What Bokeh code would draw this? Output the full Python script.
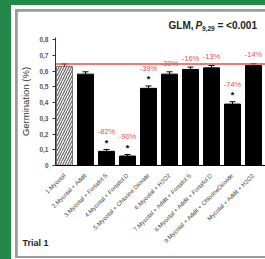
from math import pi
import re
from bokeh.plotting import figure
from bokeh.models import (ColumnDataSource, Range1d, FixedTicker, Label,
                          LabelSet, Whisker, TeeHead)
from bokeh.embed import file_html
from bokeh.resources import INLINE
from bokeh.core.properties import value

# ---------------- data ----------------
treatments = [
    "1.Mycotal",
    "2.Mycotal + Addit",
    "3.Mycotal + Fortafol S",
    "4.Mycotal + Fortafol D",
    "5.Mycotal + Chlorine Dioxide",
    "6.Mycotal + H2O2",
    "7.Mycotal + Addit + Fortafol S",
    "8.Mycotal + Addit + Fortafol D",
    "9.Mycotal + Addit + ChlorineDioxide",
    "Mycotal + Addit + H2O2",
]
germination = [0.63, 0.58, 0.09, 0.06, 0.49, 0.58, 0.61, 0.62, 0.39, 0.635]
errors = [0.015, 0.015, 0.012, 0.010, 0.015, 0.015, 0.015, 0.015, 0.015, 0.012]
change_labels = ["", "", "-82%", "-90%", "-39%", "-30%", "-16%", "-13%", "-74%", "-14%"]
significant = [False, False, True, True, True, False, False, False, True, False]
control_level = 0.645
y_ticks = [0, 0.1, 0.2, 0.3, 0.4, 0.5, 0.6, 0.7, 0.8]
y_tick_labels = ["0", "0,1", "0,2", "0,3", "0,4", "0,5", "0,6", "0,7", "0,8"]
title_parts = ["GLM,", "P", "9,29", "= <0.001"]
panel_label = "Trial 1"

FONT = "Liberation Sans"
RED = "#e2534d"

# axis extents (the visible axes), the canvas shows a bit more around them
X_LO, X_HI = 0.571, 10.571
Y_LO, Y_HI = 0.0, 0.815

xs = list(range(1, len(treatments) + 1))
tops = [g + e for g, e in zip(germination, errors)]
star_y = [t + 0.042 for t in tops]
lab_y = [(s + 0.07) if sig else (t + 0.055) for s, t, sig in zip(star_y, tops, significant)]

src = ColumnDataSource(dict(x=xs, top=germination, upper=tops, lab=change_labels, laby=lab_y))
ctrl = ColumnDataSource(dict(x=xs[:1], top=germination[:1]))
treat = ColumnDataSource(dict(x=xs[1:], top=germination[1:]))
stars = ColumnDataSource(dict(
    x=[x for x, s in zip(xs, significant) if s],
    y=[y for y, s in zip(star_y, significant) if s],
    t=["*" for s in significant if s]))

p = figure(width=248, height=245,
           x_range=Range1d(-1.238, 10.571), y_range=Range1d(-0.578, 0.978),
           output_backend="svg", toolbar_location=None,
           min_border_left=0, min_border_right=0, min_border_top=0, min_border_bottom=0,
           margin=(11, 0, 0, 17),
           styles={"outline": "2px solid #9c9c9c", "box-shadow": "0 0 0 6px #ffffff"})
p.background_fill_color = "white"
p.border_fill_color = "white"
p.outline_line_color = None
p.xgrid.visible = False
p.ygrid.visible = False

# bars
p.vbar(x="x", top="top", bottom=0, width=0.76, source=treat,
       fill_color="black", line_color="black")
p.vbar(x="x", top="top", bottom=0, width=0.76, source=ctrl,
       fill_color="white", line_color="#555555", line_width=0.8,
       hatch_pattern="right_diagonal_line", hatch_color="#666666",
       hatch_scale=5, hatch_weight=1.2)

# error bars
p.add_layout(Whisker(source=src, base="x", lower="top", upper="upper",
                     line_color="black", line_width=1,
                     upper_head=TeeHead(size=6, line_color="black", line_width=1),
                     lower_head=None))

# control reference line across the axis width
p.line(x=[X_LO, X_HI], y=[control_level, control_level], line_color=RED, line_width=1.5)

# change labels and significance stars
p.add_layout(LabelSet(x="x", y="laby", text="lab", source=src,
                      text_font=value(FONT), text_font_size=value("7.5px"),
                      text_color=RED, text_align="center", text_baseline="middle"))
p.add_layout(LabelSet(x="x", y="y", text="t", source=stars,
                      text_font=value(FONT), text_font_size=value("9px"),
                      text_font_style="bold",
                      text_color="black", text_align="center", text_baseline="middle"))

# axes, fixed inside the canvas
p.xaxis.fixed_location = 0
p.xaxis.bounds = (X_LO, X_HI)
p.xaxis.ticker = FixedTicker(ticks=xs)
p.xaxis.major_label_overrides = {x: t for x, t in zip(xs, treatments)}
p.xaxis.major_label_orientation = pi / 4
p.xaxis.major_label_text_font = FONT
p.xaxis.major_label_text_font_size = "6px"
p.xaxis.major_label_text_color = "#444444"
p.xaxis.major_label_standoff = 3
p.xaxis.major_tick_line_color = None
p.xaxis.minor_tick_line_color = None
p.xaxis.axis_line_color = "black"
p.xaxis.axis_line_width = 1.2

p.yaxis.fixed_location = X_LO
p.yaxis.bounds = (Y_LO, Y_HI)
p.yaxis.ticker = FixedTicker(ticks=y_ticks)
p.yaxis.major_label_overrides = {t: l for t, l in zip(y_ticks, y_tick_labels)}
p.yaxis.major_label_text_font = FONT
p.yaxis.major_label_text_font_size = "6.5px"
p.yaxis.major_label_text_font_style = "bold"
p.yaxis.major_label_text_color = "#555555"
p.yaxis.major_label_standoff = 4
p.yaxis.major_tick_out = 3
p.yaxis.major_tick_in = 0
p.yaxis.minor_tick_line_color = None
p.yaxis.axis_line_color = "#333333"
p.yaxis.major_tick_line_color = "#333333"
p.yaxis.axis_label = "Germination (%)"
p.yaxis.axis_label_text_font = FONT
p.yaxis.axis_label_text_font_size = "9.5px"
p.yaxis.axis_label_text_font_style = "normal"
p.yaxis.axis_label_text_color = "#333333"
p.yaxis.axis_label_standoff = 5

# title pieces (subscript and italic P)
tx, ty = 5.952, 0.889
offsets = [0, 27, 33.5, 49]
styles_ = ["bold", "bold italic", "bold", "bold"]
sizes = ["10px", "10px", "6.5px", "10px"]
ys = [ty, ty, ty - 0.02, ty]
for txt, off, st, sz, yy in zip(title_parts, offsets, styles_, sizes, ys):
    p.add_layout(Label(x=tx, y=yy, x_offset=off, text=txt, text_font=FONT,
                       text_font_size=sz, text_font_style=st, text_color="#222222",
                       text_align="left", text_baseline="middle"))

p.add_layout(Label(x=-1.0, y=-0.495, text=panel_label, text_font=FONT,
                   text_font_size="9px", text_font_style="bold", text_color="#222222",
                   text_align="left", text_baseline="middle"))

html = file_html(p, INLINE)
html = re.sub(r"<body[^>]*>", '<body style="margin:0;background:#22894b">', html, count=1)
html = html.replace("</head>", "<style>html,body{margin:0;background:#22894b;}</style></head>", 1)
open("out.html", "w").write(html)
